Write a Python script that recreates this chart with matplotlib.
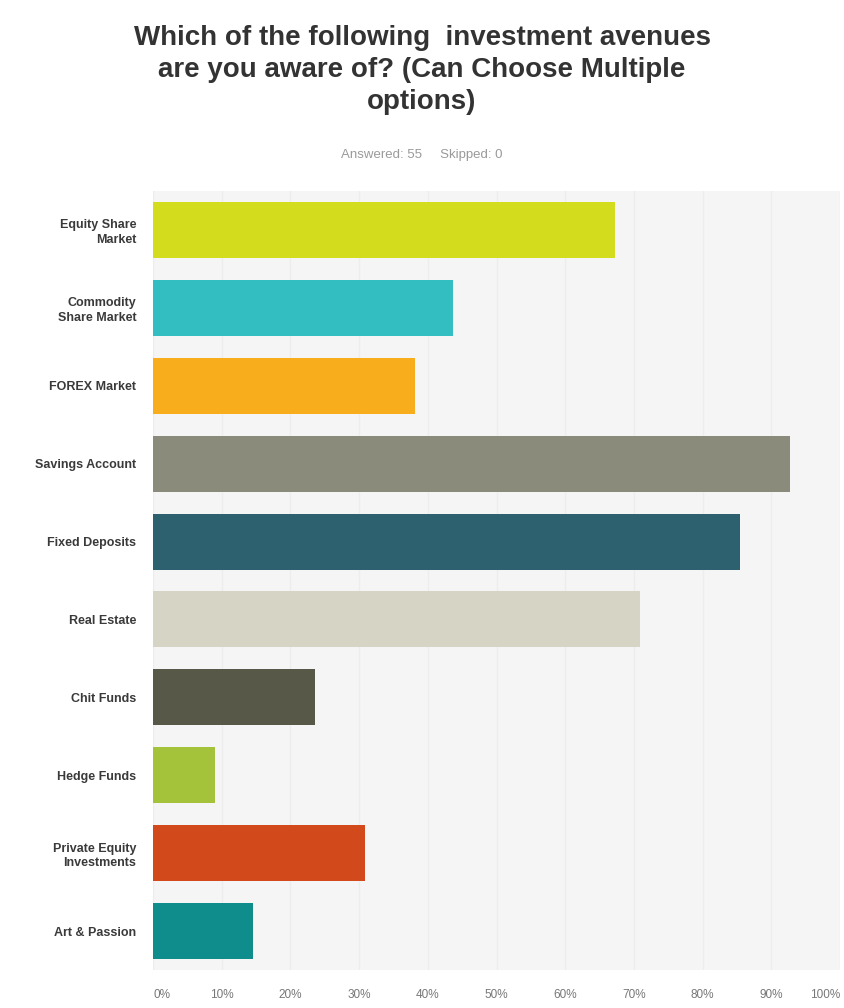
import numpy as np
import matplotlib
matplotlib.use("Agg")
import matplotlib.pyplot as plt

plt.rcParams["font.family"] = ["Liberation Sans", "DejaVu Sans"]

# survey answers (55 respondents), percent aware of each avenue
categories = ["Equity Share\nMarket", "Commodity\nShare Market", "FOREX Market",
              "Savings Account", "Fixed Deposits", "Real Estate", "Chit Funds",
              "Hedge Funds", "Private Equity\nInvestments", "Art & Passion"]
percent = [67.27, 43.64, 38.18, 92.73, 85.45, 70.91, 23.64, 9.09, 30.91, 14.55]
bar_colors = ["#d4dc1e", "#33bfc2", "#f8ad1d", "#8b8b7b", "#2e6170",
              "#d6d5c5", "#585848", "#a4c23a", "#d24a1b", "#0f8c8c"]
x_ticks = list(range(0, 101, 10))
x_tick_labels = [f"{t}%" for t in x_ticks]

fig = plt.figure(figsize=(8.44, 10.08), dpi=100)
ax = fig.add_axes([153 / 844, 38 / 1008, 687 / 844, 779 / 1008])
ax.set_facecolor("#f5f5f5")

y = np.arange(len(categories))
ax.barh(y, percent, height=0.72, color=bar_colors, zorder=3)

ax.set_xlim(0, 100)
ax.set_ylim(len(categories) - 0.5, -0.5)
ax.set_yticks(y)
ax.set_yticklabels(categories, fontsize=9, fontweight="bold", color="#3a3a3a",
                   linespacing=1.3)
ax.set_xticks(x_ticks)
ax.set_xticklabels(x_tick_labels, fontsize=8.5, color="#777777")
ax.get_xticklabels()[0].set_horizontalalignment("left")
ax.get_xticklabels()[-1].set_horizontalalignment("right")
ax.tick_params(axis="both", length=0)
ax.tick_params(axis="y", pad=12)
ax.tick_params(axis="x", pad=14)
ax.grid(axis="x", color="#ededed", linewidth=1, zorder=0)
for s in ax.spines.values():
    s.set_visible(False)

fig.text(0.5, 1 - 70 / 1008,
         "Which of the following  investment avenues\nare you aware of? (Can Choose Multiple\noptions)",
         ha="center", va="center", fontsize=20, fontweight="bold", color="#333333",
         linespacing=1.3)
fig.text(0.5, 1 - 155 / 1008, "Answered: 55     Skipped: 0", ha="center", va="center",
         fontsize=9.5, color="#9a9a9a")

fig.savefig("out.png", dpi=100, facecolor="white")
